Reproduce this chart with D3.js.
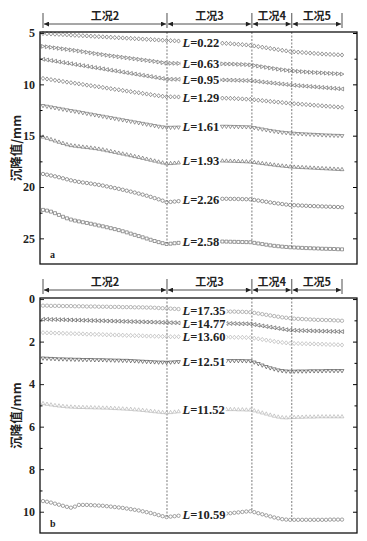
<!DOCTYPE html>
<html><head><meta charset="utf-8">
<script src="https://cdn.jsdelivr.net/npm/d3@7"></script>
<style>
html,body{margin:0;padding:0;background:#fff;}
svg{display:block;}
</style>
</head><body>
<svg id="c" width="367" height="541"></svg>
<script>
// ---------- DATA ----------
const stageNames = ["工况2","工况3","工况4","工况5"];
const stageBounds = [0, 31.1, 52.4, 62.4, 75];
const steps = d3.range(76);

const topTicks = [5,10,15,20,25];
const topMinor = [7.5,12.5,17.5,22.5];
const botTicks = [0,2,4,6,8,10];
const botMinor = [1,3,5,7,9];

const topLabels = ["0.22","0.63","0.95","1.29","1.61","1.93","2.26","2.58"];
const top022 = [5.05,5.07,5.09,5.11,5.13,5.15,5.17,5.20,5.22,5.24,5.26,5.28,5.30,5.33,5.35,5.37,5.39,5.41,5.44,5.46,5.48,5.50,5.52,5.55,5.57,5.59,5.61,5.63,5.66,5.68,5.70,5.72,
 5.74,5.76,5.78,5.80,5.82,5.84,5.86,5.88,5.90,5.92,5.93,5.95,5.97,5.99,6.01,6.04,6.07,6.10,6.13,6.16,6.20,
 6.26,6.32,6.38,6.44,6.50,6.56,6.62,6.68,6.74,6.80,
 6.83,6.86,6.89,6.92,6.95,6.98,7.01,7.04,7.06,7.08,7.10,7.12,7.14];
const top063 = [6.30,6.34,6.39,6.44,6.49,6.54,6.59,6.64,6.69,6.75,6.81,6.87,6.93,6.99,7.05,7.10,7.16,7.21,7.26,7.31,7.36,7.41,7.46,7.51,7.56,7.61,7.66,7.71,7.76,7.82,7.88,7.94,
 7.95,7.95,7.96,7.96,7.96,7.97,7.97,7.97,7.98,7.98,7.98,7.99,7.99,8.00,8.01,8.02,8.03,8.05,8.06,8.08,8.10,
 8.16,8.22,8.28,8.34,8.40,8.46,8.52,8.57,8.62,8.67,
 8.70,8.73,8.76,8.79,8.82,8.84,8.86,8.88,8.91,8.93,8.95,8.97,9.00];
const top095 = [7.56,7.62,7.68,7.74,7.81,7.87,7.93,7.99,8.06,8.12,8.18,8.24,8.31,8.37,8.43,8.49,8.56,8.62,8.68,8.74,8.81,8.87,8.93,8.99,9.06,9.12,9.18,9.24,9.31,9.37,9.43,9.50,
 9.50,9.51,9.51,9.52,9.52,9.53,9.53,9.54,9.54,9.55,9.55,9.56,9.56,9.57,9.58,9.59,9.60,9.61,9.62,9.63,9.64,
 9.68,9.72,9.77,9.81,9.85,9.89,9.93,9.97,10.01,10.06,
 10.09,10.12,10.15,10.18,10.21,10.24,10.27,10.30,10.33,10.36,10.39,10.42,10.45];
const top129 = [9.42,9.48,9.54,9.60,9.66,9.72,9.78,9.84,9.89,9.95,10.01,10.07,10.13,10.19,10.24,10.30,10.36,10.42,10.48,10.53,10.59,10.65,10.71,10.77,10.82,10.88,10.94,11.00,11.06,11.11,11.16,11.20,
 11.21,11.22,11.23,11.24,11.25,11.26,11.27,11.28,11.29,11.30,11.31,11.32,11.33,11.34,11.35,11.36,11.38,11.40,11.42,11.44,11.46,
 11.50,11.54,11.58,11.62,11.66,11.70,11.73,11.77,11.81,11.85,
 11.88,11.91,11.94,11.97,12.00,12.03,12.06,12.09,12.12,12.15,12.18,12.21,12.24];
const top161 = [12.10,12.17,12.24,12.31,12.38,12.45,12.52,12.59,12.65,12.72,12.79,12.86,12.93,13.00,13.07,13.14,13.21,13.28,13.35,13.42,13.49,13.56,13.63,13.70,13.77,13.84,13.91,13.98,14.05,14.12,14.18,14.22,
 14.22,14.21,14.20,14.19,14.18,14.17,14.16,14.15,14.14,14.14,14.13,14.13,14.13,14.12,14.12,14.13,14.14,14.15,14.16,14.17,14.18,
 14.25,14.32,14.39,14.46,14.53,14.59,14.65,14.70,14.74,14.77,
 14.80,14.83,14.85,14.87,14.89,14.91,14.93,14.95,14.97,14.98,15.00,15.01,15.03];
const top193 = [15.10,15.22,15.35,15.48,15.60,15.72,15.84,15.93,15.98,16.03,16.08,16.12,16.17,16.22,16.28,16.35,16.43,16.51,16.59,16.67,16.75,16.83,16.91,17.00,17.08,17.17,17.26,17.35,17.44,17.53,17.62,17.70,
 17.68,17.65,17.62,17.58,17.55,17.52,17.49,17.46,17.44,17.43,17.43,17.42,17.43,17.43,17.44,17.45,17.46,17.48,17.49,17.51,17.53,
 17.58,17.63,17.68,17.73,17.78,17.83,17.88,17.92,17.96,18.00,
 18.03,18.05,18.07,18.09,18.11,18.13,18.15,18.17,18.19,18.21,18.23,18.25,18.27];
const top226 = [18.73,18.80,18.88,18.96,19.05,19.15,19.25,19.35,19.43,19.50,19.56,19.61,19.67,19.73,19.79,19.86,19.94,20.02,20.10,20.18,20.27,20.36,20.45,20.54,20.64,20.74,20.85,20.96,21.08,21.20,21.33,21.48,
 21.45,21.42,21.38,21.34,21.30,21.27,21.24,21.21,21.19,21.17,21.16,21.15,21.15,21.15,21.15,21.16,21.16,21.17,21.18,21.19,21.20,
 21.26,21.32,21.38,21.44,21.50,21.56,21.61,21.66,21.71,21.75,
 21.77,21.79,21.81,21.83,21.85,21.86,21.88,21.89,21.91,21.92,21.94,21.95,21.97];
const top258 = [22.23,22.30,22.40,22.55,22.72,22.90,23.05,23.17,23.27,23.35,23.43,23.50,23.58,23.66,23.75,23.83,23.92,24.01,24.10,24.20,24.31,24.42,24.54,24.66,24.78,24.90,25.02,25.14,25.26,25.37,25.47,25.55,
 25.52,25.48,25.44,25.40,25.37,25.34,25.32,25.30,25.29,25.29,25.29,25.30,25.30,25.31,25.32,25.33,25.34,25.35,25.36,25.37,25.38,
 25.44,25.50,25.56,25.62,25.68,25.73,25.77,25.81,25.84,25.87,
 25.89,25.91,25.93,25.95,25.96,25.98,25.99,26.01,26.02,26.03,26.04,26.06,26.07];

const botLabels = ["17.35","14.77","13.60","12.51","11.52","10.59"];
const bot1735 = [0.31,0.31,0.32,0.32,0.32,0.33,0.33,0.33,0.34,0.34,0.34,0.35,0.35,0.35,0.36,0.36,0.36,0.37,0.37,0.37,0.38,0.38,0.38,0.39,0.39,0.39,0.40,0.40,0.41,0.42,0.43,0.44,
 0.45,0.46,0.47,0.48,0.49,0.50,0.51,0.52,0.53,0.54,0.55,0.56,0.57,0.58,0.58,0.59,0.59,0.60,0.60,0.61,0.62,
 0.65,0.68,0.71,0.74,0.77,0.80,0.83,0.86,0.88,0.90,
 0.92,0.93,0.94,0.95,0.96,0.97,0.98,0.98,0.99,0.99,1.00,1.01,1.02];
const bot1477 = [0.95,0.95,0.96,0.96,0.97,0.97,0.98,0.98,0.99,0.99,1.00,1.00,1.01,1.01,1.02,1.02,1.03,1.03,1.04,1.04,1.05,1.05,1.06,1.06,1.07,1.07,1.08,1.08,1.09,1.09,1.10,1.11,
 1.11,1.11,1.12,1.12,1.12,1.12,1.13,1.13,1.13,1.13,1.14,1.14,1.14,1.14,1.15,1.15,1.15,1.16,1.16,1.16,1.17,
 1.20,1.23,1.26,1.29,1.32,1.35,1.38,1.41,1.44,1.46,
 1.47,1.48,1.48,1.49,1.49,1.50,1.50,1.51,1.51,1.52,1.52,1.53,1.53];
const bot1360 = [1.58,1.59,1.59,1.60,1.60,1.61,1.62,1.62,1.63,1.63,1.64,1.65,1.65,1.66,1.66,1.67,1.68,1.68,1.69,1.69,1.70,1.71,1.71,1.72,1.72,1.73,1.74,1.74,1.75,1.75,1.76,1.77,
 1.77,1.77,1.77,1.77,1.77,1.77,1.78,1.78,1.78,1.78,1.78,1.79,1.79,1.79,1.79,1.79,1.80,1.80,1.80,1.81,1.81,
 1.84,1.87,1.90,1.93,1.96,1.99,2.02,2.04,2.06,2.08,
 2.09,2.09,2.10,2.10,2.11,2.11,2.12,2.12,2.13,2.14,2.14,2.15,2.16];
const bot1251 = [2.79,2.80,2.81,2.82,2.83,2.83,2.84,2.84,2.85,2.85,2.86,2.86,2.86,2.87,2.87,2.87,2.88,2.88,2.89,2.89,2.90,2.90,2.91,2.92,2.93,2.94,2.95,2.96,2.97,2.98,2.98,2.99,
 2.98,2.97,2.96,2.95,2.94,2.93,2.92,2.92,2.91,2.91,2.91,2.91,2.91,2.91,2.91,2.91,2.91,2.91,2.91,2.92,2.92,
 2.98,3.05,3.12,3.19,3.25,3.30,3.35,3.38,3.40,3.41,
 3.41,3.40,3.40,3.40,3.39,3.39,3.39,3.39,3.38,3.38,3.38,3.38,3.38];
const bot1152 = [4.90,4.93,4.96,4.99,5.01,5.03,5.05,5.06,5.07,5.08,5.08,5.09,5.09,5.10,5.10,5.11,5.11,5.12,5.13,5.14,5.15,5.16,5.17,5.19,5.20,5.22,5.24,5.26,5.28,5.30,5.32,5.34,
 5.32,5.30,5.28,5.26,5.25,5.23,5.22,5.21,5.20,5.19,5.18,5.18,5.18,5.18,5.18,5.18,5.18,5.19,5.19,5.20,5.20,
 5.24,5.29,5.34,5.39,5.44,5.49,5.53,5.56,5.57,5.56,
 5.55,5.54,5.54,5.53,5.53,5.53,5.52,5.52,5.52,5.52,5.52,5.52,5.52];
const bot1059 = [9.50,9.53,9.57,9.62,9.67,9.72,9.77,9.81,9.76,9.68,9.68,9.68,9.69,9.70,9.71,9.72,9.74,9.76,9.78,9.80,9.82,9.85,9.88,9.91,9.94,9.98,10.02,10.06,10.11,10.16,10.21,10.25,
 10.23,10.21,10.19,10.17,10.15,10.13,10.12,10.11,10.11,10.10,10.10,10.10,10.10,10.09,10.08,10.07,10.05,10.03,10.01,9.99,9.98,
 10.02,10.07,10.12,10.17,10.22,10.27,10.31,10.35,10.37,10.38,
 10.38,10.38,10.38,10.38,10.38,10.38,10.38,10.38,10.38,10.37,10.37,10.37,10.37];

// ---------- DRAW ----------
const svg = d3.select("#c");
const FONT = "'Liberation Serif','Noto Sans CJK SC',serif";
const CJK = "'Noto Sans CJK SC','Liberation Serif',sans-serif";
const L = 40, R = 357;
const x = d3.scaleLinear().domain([0, 75]).range([43, 342]);

const shapes = {
  circle: "M1.7,0A1.7,1.7 0 1,1 -1.7,0A1.7,1.7 0 1,1 1.7,0Z",
  diamond: "M0,-2.1L1.7,0L0,2.1L-1.7,0Z",
  right: "M-1.6,-1.9L1.9,0L-1.6,1.9Z",
  left: "M1.6,-1.9L-1.9,0L1.6,1.9Z",
  down: "M-1.9,-1.4L1.9,-1.4L0,1.9Z",
  up: "M-1.9,1.4L1.9,1.4L0,-1.9Z",
  square: "M-1.5,-1.5L1.5,-1.5L1.5,1.5L-1.5,1.5Z"
};

const panels = [
  { top: 32, bottom: 264, domain: [4.9, 27.5], major: topTicks, minor: topMinor, letter: "a",
    series: [top022, top063, top095, top129, top161, top193, top226, top258], labels: topLabels,
    shapes: ["diamond","right","left","diamond","down","up","circle","square"],
    colors: ["#555","#555","#555","#555","#555","#555","#555","#555"] },
  { top: 298, bottom: 533, domain: [-0.05, 11], major: botTicks, minor: botMinor, letter: "b",
    series: [bot1735, bot1477, bot1360, bot1251, bot1152, bot1059], labels: botLabels,
    shapes: ["circle","left","diamond","down","up","circle"],
    colors: ["#888","#444","#aaa","#333","#aaa","#666"] }
];

svg.append("defs").html(
  '<marker id="arr" viewBox="0 0 10 10" refX="10" refY="5" markerWidth="7" markerHeight="5" orient="auto-start-reverse" markerUnits="userSpaceOnUse"><path d="M0,0L10,5L0,10Z" fill="#222"/></marker>');

panels.forEach(p => {
  const y = d3.scaleLinear().domain(p.domain).range([p.top, p.bottom]);
  const g = svg.append("g");

  // header
  const hy = p.top - 8;
  stageBounds.forEach(b => {
    g.append("line").attr("x1", x(b)).attr("x2", x(b)).attr("y1", p.top - 19).attr("y2", p.top - 4)
      .attr("stroke", "#222").attr("stroke-width", 0.8);
  });
  stageNames.forEach((n, i) => {
    const a = x(stageBounds[i]), b = x(stageBounds[i + 1]);
    g.append("line").attr("x1", a + 1).attr("x2", b - 1).attr("y1", hy).attr("y2", hy)
      .attr("stroke", "#222").attr("stroke-width", 0.8)
      .attr("marker-start", "url(#arr)").attr("marker-end", "url(#arr)");
    g.append("text").attr("x", (a + b) / 2).attr("y", p.top - 16).attr("dy", "0.35em")
      .attr("text-anchor", "middle").attr("font-family", CJK).attr("font-size", 11)
      .attr("font-weight", "bold").attr("fill", "#222").text(n);
  });

  // dashed separators down to the lowest series
  const last = p.series[p.series.length - 1];
  stageBounds.slice(1, 4).forEach(b => {
    g.append("line").attr("x1", x(b)).attr("x2", x(b)).attr("y1", p.top).attr("y2", y(last[Math.round(b)]))
      .attr("stroke", "#444").attr("stroke-width", 0.7).attr("stroke-dasharray", "2,1.5");
  });

  // series markers
  p.series.forEach((s, si) => {
    g.append("g").selectAll("path").data(steps).join("path")
      .attr("d", shapes[p.shapes[si]])
      .attr("transform", t => `translate(${x(t)},${y(s[t])})`)
      .attr("fill", "none").attr("stroke", p.colors[si]).attr("stroke-width", 0.6);
  });

  // labels
  p.series.forEach((s, si) => {
    const lg = g.append("g");
    const tx = lg.append("text").attr("x", x(35)).attr("y", y(s[39])).attr("dy", "0.36em")
      .attr("font-family", FONT).attr("font-size", 12.5).attr("font-weight", "bold").attr("fill", "#222");
    tx.append("tspan").attr("font-style", "italic").text("L");
    tx.append("tspan").text("=" + p.labels[si]);
    const bb = tx.node().getBBox();
    lg.insert("rect", "text").attr("x", bb.x - 1).attr("y", bb.y + 2).attr("width", bb.width + 2)
      .attr("height", bb.height - 4).attr("fill", "#fff");
  });

  // axes
  const ax = d3.axisLeft(y).tickValues(p.major).tickSize(-4).tickPadding(5).tickFormat(d3.format("d"));
  const ga = g.append("g").attr("transform", `translate(${L},0)`).call(ax);
  ga.select(".domain").remove();
  ga.selectAll("text").attr("font-family", FONT).attr("font-size", 12).attr("font-weight", "bold").attr("fill", "#222");
  ga.selectAll("line").attr("stroke", "#222");
  const axm = d3.axisLeft(y).tickValues(p.minor).tickSize(-2.5).tickFormat("");
  const gm = g.append("g").attr("transform", `translate(${L},0)`).call(axm);
  gm.select(".domain").remove();
  const axr = d3.axisRight(y).tickValues(p.major).tickSize(-4).tickFormat("");
  const gr = g.append("g").attr("transform", `translate(${R},0)`).call(axr);
  gr.select(".domain").remove();
  const axrm = d3.axisRight(y).tickValues(p.minor).tickSize(-2.5).tickFormat("");
  const grm = g.append("g").attr("transform", `translate(${R},0)`).call(axrm);
  grm.select(".domain").remove();

  // frame
  g.append("rect").attr("x", L).attr("y", p.top).attr("width", R - L).attr("height", p.bottom - p.top)
    .attr("fill", "none").attr("stroke", "#111").attr("stroke-width", 1.3);

  // panel letter
  g.append("text").attr("x", 50).attr("y", p.bottom - 6).attr("font-family", FONT)
    .attr("font-size", 10).attr("font-weight", "bold").attr("fill", "#222").text(p.letter);

  // y title
  g.append("text").attr("transform", `translate(17,${(p.top + p.bottom) / 2}) rotate(-90)`)
    .attr("text-anchor", "middle").attr("dy", "0.35em").attr("font-family", CJK).attr("font-size", 12.5).attr("font-weight", "bold")
    .attr("fill", "#222").text("沉降值/mm");
});
</script>
</body></html>
